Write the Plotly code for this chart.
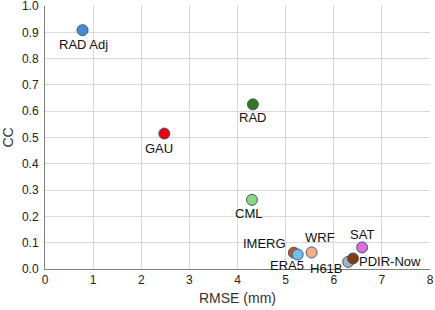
import plotly.graph_objects as go

names = ["RAD Adj", "RAD", "GAU", "CML", "IMERG", "ERA5", "WRF", "SAT", "H61B", "PDIR-Now"]
rmse = [0.78, 4.32, 2.48, 4.30, 5.17, 5.25, 5.54, 6.59, 6.30, 6.40]
cc = [0.908, 0.626, 0.515, 0.263, 0.062, 0.055, 0.063, 0.082, 0.027, 0.040]
colors = ["#4a88d6", "#37761f", "#e6000f", "#8fd67a", "#c55a11", "#6fc0ea",
          "#f4b183", "#d86fd8", "#a3b4bd", "#843c0c"]
x_ticks = [0, 1, 2, 3, 4, 5, 6, 7, 8]
y_ticks = [0.0, 0.1, 0.2, 0.3, 0.4, 0.5, 0.6, 0.7, 0.8, 0.9, 1.0]
# label offsets in pixels (dx, dy up-positive)
label_dx = [1, 0, -5, -3, -29, -11, 8, 0, -22, 37]
label_dy = [-14, -13, -15, -14, 9, -11, 15, 13, -7, -3]

fig = go.Figure()
fig.add_trace(go.Scatter(
    x=rmse, y=cc, mode="markers",
    marker=dict(size=11, color=colors, line=dict(color="#3f5a78", width=1)),
    showlegend=False, hoverinfo="skip", cliponaxis=False))

for n, x, y, dx, dy in zip(names, rmse, cc, label_dx, label_dy):
    fig.add_annotation(x=x, y=y, text=n, showarrow=False, xshift=dx, yshift=dy,
                       xanchor="center", yanchor="middle",
                       font=dict(family="Liberation Sans, Arial", size=13, color="#111111"))

fig.update_layout(
    width=435, height=310,
    margin=dict(l=45, r=5, t=6, b=41, autoexpand=False),
    paper_bgcolor="white", plot_bgcolor="white",
    font=dict(family="Liberation Sans, Arial", size=12, color="#222222"),
)
fig.update_xaxes(range=[0, 8], tickvals=x_ticks, ticktext=[str(v) for v in x_ticks],
                 showgrid=True, gridcolor="#d9d9d9", automargin=False,
                 ticklabeloverflow="allow",
                 zeroline=False, showline=True, linecolor="#808080",
                 ticks="", tickfont=dict(size=12, color="#222222"),
                 title=dict(text="RMSE (mm)", font=dict(size=14, color="#333333"), standoff=6))
fig.update_yaxes(range=[0, 1.0], tickvals=y_ticks, ticktext=[f"{v:.1f}" for v in y_ticks],
                 showgrid=True, automargin=False, ticklabeloverflow="allow",
                 ticklabelstandoff=3,
                 gridcolor="#d9d9d9", zeroline=False, showline=True, linecolor="#808080",
                 ticks="", tickfont=dict(size=12, color="#222222"),
                 title=dict(text="CC", font=dict(size=14, color="#333333"), standoff=6))

fig.write_html("out.html", config={"displayModeBar": False},
               post_script="document.body.style.margin='0';document.body.style.padding='0';"
                           "document.documentElement.style.overflow='hidden';")
